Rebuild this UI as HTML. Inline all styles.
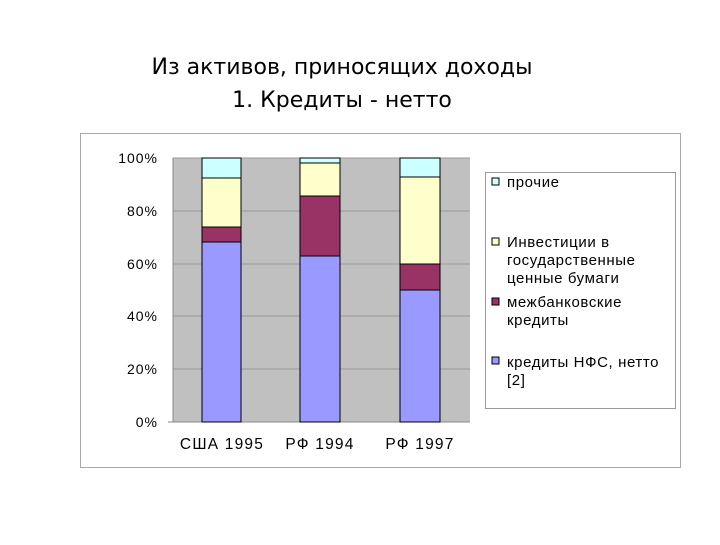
<!DOCTYPE html>
<html><head><meta charset="utf-8"><style>
body{margin:0;width:720px;height:540px;background:#fff;overflow:hidden}
</style></head><body>
<svg width="720" height="540" xmlns="http://www.w3.org/2000/svg" font-family="Liberation Sans, sans-serif">
<text x="342" y="74" font-family="DejaVu Sans, sans-serif" font-size="22" text-anchor="middle" fill="#000">Из активов, приносящих доходы</text>
<text x="342" y="107" font-family="DejaVu Sans, sans-serif" font-size="22" text-anchor="middle" fill="#000">1. Кредиты - нетто</text>
<rect x="80.5" y="133.5" width="600" height="334" fill="#fff" stroke="#aaa"/>
<rect x="173" y="158" width="297" height="264" fill="#c0c0c0"/>
<g stroke="#999" stroke-width="1">
<line x1="173" y1="158" x2="470" y2="158"/><line x1="173" y1="211" x2="470" y2="211"/>
<line x1="173" y1="264" x2="470" y2="264"/><line x1="173" y1="316" x2="470" y2="316"/>
<line x1="173" y1="369" x2="470" y2="369"/>
</g>
<line x1="173" y1="158" x2="173" y2="422" stroke="#888"/>
<line x1="168" y1="422" x2="470" y2="422" stroke="#888"/>
<g font-size="14" letter-spacing="1" text-anchor="end" fill="#000">
<text x="158" y="163">100%</text><text x="158" y="216">80%</text><text x="158" y="269">60%</text>
<text x="158" y="321">40%</text><text x="158" y="374">20%</text><text x="158" y="427">0%</text>
</g>
<g stroke="#000" stroke-width="1">
<rect x="202" y="242" width="39" height="180" fill="#9999ff"/>
<rect x="202" y="227" width="39" height="15" fill="#993366"/>
<rect x="202" y="178" width="39" height="49" fill="#ffffcc"/>
<rect x="202" y="158" width="39" height="20" fill="#ccffff"/>
<rect x="300" y="256" width="40" height="166" fill="#9999ff"/>
<rect x="300" y="196" width="40" height="60" fill="#993366"/>
<rect x="300" y="163" width="40" height="33" fill="#ffffcc"/>
<rect x="300" y="158" width="40" height="5" fill="#ccffff"/>
<rect x="400" y="290" width="40" height="132" fill="#9999ff"/>
<rect x="400" y="264" width="40" height="26" fill="#993366"/>
<rect x="400" y="177" width="40" height="87" fill="#ffffcc"/>
<rect x="400" y="158" width="40" height="19" fill="#ccffff"/>
</g>
<g font-size="15.5" letter-spacing="1.2" text-anchor="middle" fill="#000">
<text x="222" y="449">США 1995</text><text x="320" y="449">РФ 1994</text><text x="420" y="449">РФ 1997</text>
</g>
<rect x="485.5" y="172.5" width="190" height="236" fill="#fff" stroke="#999"/>
<g stroke="#000" stroke-width="1">
<rect x="492" y="178" width="7" height="7" fill="#ccffff"/>
<rect x="492" y="238" width="7" height="7" fill="#ffffcc"/>
<rect x="492" y="298" width="7" height="7" fill="#993366"/>
<rect x="492" y="357" width="7" height="7" fill="#9999ff"/>
</g>
<g font-size="15" letter-spacing="0.6" fill="#000">
<text x="507" y="187">прочие</text>
<text x="507" y="247">Инвестиции в</text><text x="507" y="265">государственные</text><text x="507" y="283">ценные бумаги</text>
<text x="507" y="307">межбанковские</text><text x="507" y="325">кредиты</text>
<text x="507" y="367">кредиты НФС, нетто</text><text x="507" y="385">[2]</text>
</g>
</svg>
</body></html>
